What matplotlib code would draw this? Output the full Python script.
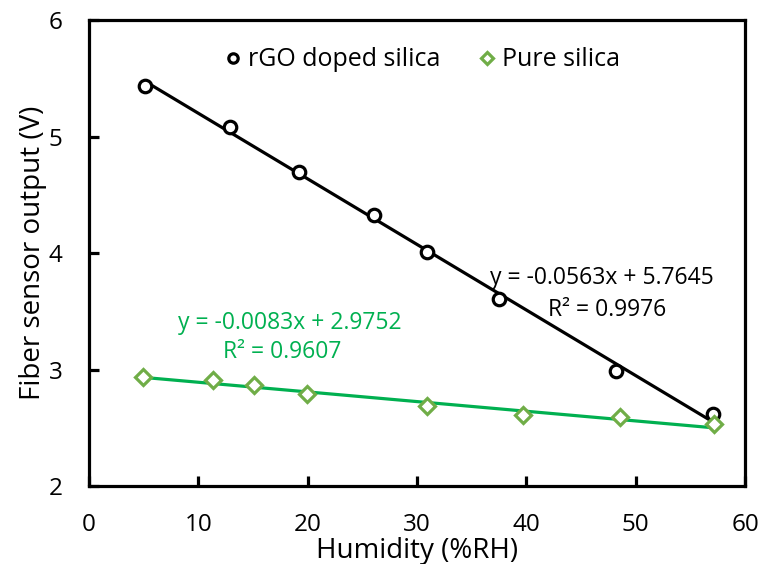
import numpy as np
import matplotlib
matplotlib.use("Agg")
import matplotlib.pyplot as plt

plt.rcParams['font.family'] = ['Open Sans', 'DejaVu Sans']

# rGO doped silica
rgo_x = [5.1, 12.9, 19.2, 26.1, 30.9, 37.5, 48.2, 57.1]
rgo_y = [5.44, 5.08, 4.70, 4.33, 4.01, 3.61, 2.99, 2.62]
rgo_fit = (-0.0563, 5.7645)
rgo_r2 = 0.9976

# pure silica
pure_x = [4.9, 11.3, 15.1, 19.9, 30.9, 39.7, 48.6, 57.2]
pure_y = [2.94, 2.91, 2.87, 2.79, 2.69, 2.61, 2.59, 2.53]
pure_fit = (-0.0083, 2.9752)
pure_r2 = 0.9607

BLACK = "#000000"
GREEN_MK = "#70AD47"
GREEN_LN = "#00B050"

fig = plt.figure(figsize=(7.61, 5.64), dpi=100)
ax = fig.add_subplot(111)
plt.subplots_adjust(left=0.117, right=0.979, top=0.964, bottom=0.138)

# trend lines
xs = np.array([min(rgo_x), max(rgo_x)])
ax.plot(xs, rgo_fit[0] * xs + rgo_fit[1], color=BLACK, lw=2.3, zorder=2)
xs = np.array([min(pure_x), max(pure_x)])
ax.plot(xs, pure_fit[0] * xs + pure_fit[1], color=GREEN_LN, lw=2.3, zorder=2)

# points
ax.plot(rgo_x, rgo_y, ls='none', marker='o', ms=9, mfc='white', mec=BLACK,
        mew=2.3, label='rGO doped silica', zorder=3)
ax.plot(pure_x, pure_y, ls='none', marker='D', ms=8, mfc='white', mec=GREEN_MK,
        mew=2.3, label='Pure silica', zorder=3)

ax.set_xlim(0, 60)
ax.set_ylim(2, 6)
ax.set_xticks(range(0, 61, 10))
ax.set_yticks(range(2, 7))
for s in ax.spines.values():
    s.set_linewidth(2.3)
ax.tick_params(direction='in', length=7, width=2.3, labelsize=17.5)
ax.tick_params(axis='x', pad=19)
ax.tick_params(axis='y', pad=19)

ax.set_xlabel('Humidity (%RH)', fontsize=20, labelpad=0)
ax.set_ylabel('Fiber sensor output (V)', fontsize=20, labelpad=1)

# equations
ax.text(46.9, 3.79, 'y = -0.0563x + 5.7645', ha='center', va='center',
        fontsize=16.5, color=BLACK)
ax.text(47.4, 3.51, 'R² = %.4f' % rgo_r2, ha='center', va='center',
        fontsize=16.5, color=BLACK)
ax.text(18.4, 3.40, 'y = -0.0083x + 2.9752', ha='center', va='center',
        fontsize=16.5, color=GREEN_LN)
ax.text(17.7, 3.15, 'R² = %.4f' % pure_r2, ha='center', va='center',
        fontsize=16.5, color=GREEN_LN)

ax.legend(loc='upper center', bbox_to_anchor=(0.505, 0.99), ncol=2, frameon=False,
          fontsize=18, handletextpad=0.1, columnspacing=1.4, handlelength=1.0,
          markerscale=0.75)

fig.savefig('out.png', dpi=100)
